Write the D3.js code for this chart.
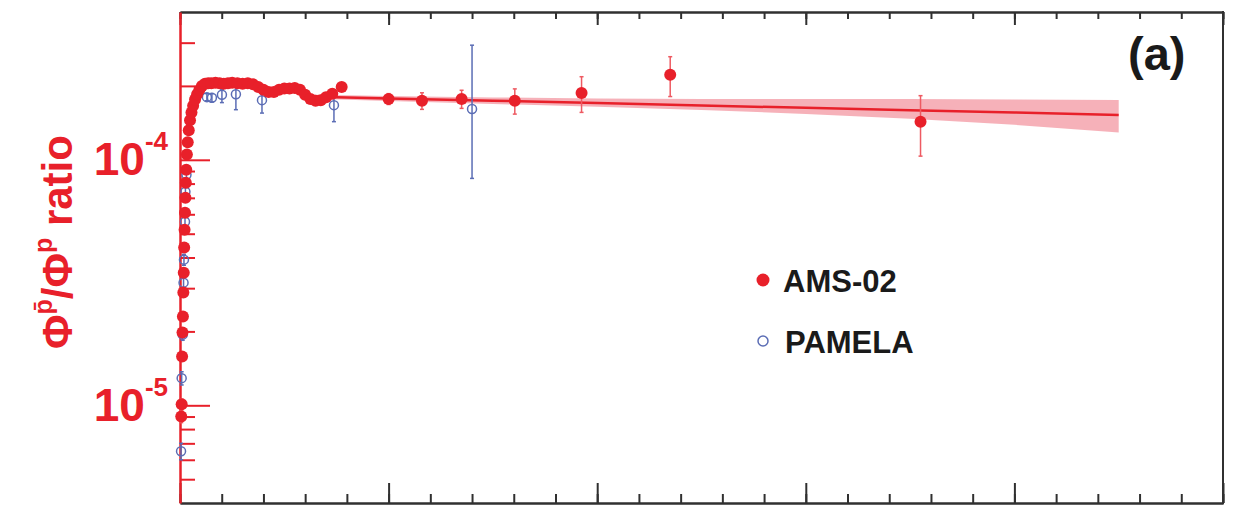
<!DOCTYPE html>
<html><head>
<meta charset="utf-8">
<title>pbar/p ratio</title>
<script src="https://d3js.org/d3.v7.min.js"></script>
<style>
  body { margin: 0; background: #fff; }
  svg text { font-family: "Liberation Sans", Arial, Helvetica, sans-serif; font-weight: bold; }
</style>
</head>
<body>
<svg id="chart" width="1233" height="505"></svg>

<script>
// ---- data (rigidity in GV, ratio in units of 1e-5) ----
const amsR = [0.6, 0.8, 1.0, 1.2, 1.4, 1.6, 1.8, 2.0, 2.2, 2.4, 2.6, 2.8, 3.0, 3.3, 3.7, 4.2, 4.8, 5.5, 6.3, 7.2,
              8.2, 9.3, 10.5, 12, 13.5, 15, 17, 19, 21, 23, 25, 27.5, 30, 32.5, 35, 37.5, 40, 42.5, 45, 47.5,
              50, 52.5, 55, 57.5, 60, 62.5, 65, 67.5, 70, 73, 77.5, 100, 116, 135, 160.5, 192.5, 235, 355];
const amsV = [0.90, 1.01, 1.58, 1.98, 2.30, 2.88, 3.47, 4.39, 5.19, 6.09, 7.01, 8.06, 9.11, 10.5, 11.8, 13.2, 14.5, 15.6, 16.6, 17.6,
              18.5, 19.3, 20.0, 20.4, 20.5, 20.5, 20.6, 20.5, 20.4, 20.5, 20.6, 20.5, 20.4, 20.5, 20.3, 19.8, 19.3, 18.9, 18.9, 19.3,
              19.5, 19.5, 19.6, 19.3, 18.4, 17.7, 17.4, 17.5, 18.0, 18.6, 19.8, 17.7, 17.4, 17.7, 17.4, 18.7, 22.2, 14.3];
const amsErr = [0.05, 0.05, 0.06, 0.07, 0.08, 0.09, 0.1, 0.12, 0.13, 0.15, 0.17, 0.18, 0.2, 0.2, 0.22, 0.24, 0.25, 0.26, 0.27, 0.28,
                0.29, 0.3, 0.3, 0.3, 0.3, 0.3, 0.3, 0.3, 0.32, 0.33, 0.34, 0.35, 0.36, 0.38, 0.4, 0.4, 0.42, 0.44, 0.45, 0.46,
                0.48, 0.5, 0.5, 0.52, 0.54, 0.55, 0.56, 0.58, 0.6, 0.62, 0.65, 0.9, 1.35, 1.5, 2.05, 3.1, 4.1, 3.95];

const pamR = [0.5, 0.8, 1.3, 1.7, 1.9, 2.4, 2.6, 3.1, 12.9, 15.3, 20.1, 26.8, 39.3, 73.8, 140];
const pamV = [0.65, 1.29, 1.94, 3.16, 3.92, 5.6, 7.41, 8.69, 18.0, 17.9, 18.4, 18.5, 17.5, 16.7, 16.1];
const pamErrLo = [0.05, 0.08, 0.1, 0.15, 0.2, 0.25, 0.3, 0.35, 0.6, 0.7, 1.3, 2.5, 2.0, 2.4, 7.7];
const pamErrHi = [0.05, 0.08, 0.1, 0.15, 0.2, 0.25, 0.3, 0.35, 0.6, 0.7, 1.0, 1.5, 1.0, 2.6, 13.2];

// fit with its uncertainty band
const fitR  = [60, 100, 150, 200, 250, 300, 350, 400, 450];
const fitV  = [18.1, 17.78, 17.41, 17.02, 16.65, 16.28, 15.93, 15.58, 15.24];
const fitLo = [17.77, 17.37, 16.89, 16.43, 15.97, 15.38, 14.68, 13.88, 12.91];
const fitHi = [18.45, 18.20, 17.95, 17.78, 17.70, 17.70, 17.70, 17.62, 17.54];

// ticks
const xMajor = [0, 100, 200, 300, 400, 500];
const xMinor = d3.range(0, 501, 20);
const yMajor = [1e-5, 1e-4];
const yMinor = [5e-6, 6e-6, 7e-6, 8e-6, 9e-6, 2e-5, 3e-5, 4e-5, 5e-5, 6e-5, 7e-5, 8e-5, 9e-5, 2e-4, 3e-4];
const unit = 1e-5;

// ---- setup ----
const svg = d3.select("svg#chart");
const red = "#e8202a";
const errRed = "#ee5a62";
const blue = "#5b6db5";
const dark = "#303030";

const xScale = d3.scaleLinear().domain([0, 500]).range([180, 1223]);
const yScale = d3.scaleLog().domain([4e-6, 4e-4]).range([503, 12]);

const ams = amsR.map((r, i) => ({ r: r, v: amsV[i] * unit, lo: (amsV[i] - amsErr[i]) * unit, hi: (amsV[i] + amsErr[i]) * unit }));
const pam = pamR.map((r, i) => ({ r: r, v: pamV[i] * unit, lo: (pamV[i] - pamErrLo[i]) * unit, hi: (pamV[i] + pamErrHi[i]) * unit }));
const fit = fitR.map((r, i) => ({ r: r, v: fitV[i] * unit, lo: fitLo[i] * unit, hi: fitHi[i] * unit }));

// ---- frame / axes ----
let frame = svg.append("g").attr("id", "frame");

function styleAxis(g, color) {
  g.attr("color", color);
  g.selectAll("path, line").attr("stroke-width", 2);
}

// bottom
frame.append("g").attr("transform", "translate(0,503)")
  .call(d3.axisBottom(xScale).tickValues(xMinor).tickSizeInner(-9).tickSizeOuter(0).tickFormat(""))
  .call(styleAxis, dark);
frame.append("g").attr("transform", "translate(0,503)")
  .call(d3.axisBottom(xScale).tickValues(xMajor).tickSizeInner(-20).tickSizeOuter(0).tickFormat(""))
  .call(styleAxis, dark);
// top
frame.append("g").attr("transform", "translate(0,12)")
  .call(d3.axisTop(xScale).tickValues(xMinor).tickSizeInner(-7).tickSizeOuter(0).tickFormat(""))
  .call(styleAxis, dark);
frame.append("g").attr("transform", "translate(0,12)")
  .call(d3.axisTop(xScale).tickValues(xMajor).tickSizeInner(-13).tickSizeOuter(0).tickFormat(""))
  .call(styleAxis, dark);
// right
frame.append("line")
  .attr("x1", xScale(500)).attr("x2", xScale(500))
  .attr("y1", yScale.range()[0] + 1).attr("y2", yScale.range()[1] - 1)
  .attr("stroke", dark).attr("stroke-width", 2);

// left (red, log)
frame.append("g").attr("transform", "translate(180,0)")
  .call(d3.axisLeft(yScale).tickValues(yMinor).tickSizeInner(-15).tickSizeOuter(0).tickFormat(""))
  .call(styleAxis, red)
  .select(".domain").attr("stroke-width", 2.5);

let yAxis = frame.append("g").attr("transform", "translate(180,0)")
  .call(d3.axisLeft(yScale).tickValues(yMajor).tickSizeInner(-30).tickSizeOuter(0).tickPadding(12))
  .call(styleAxis, red)
  .attr("font-size", 46);
yAxis.select(".domain").remove();
yAxis.selectAll(".tick text").each(function(d) {
  let t = d3.select(this).text(null).attr("fill", red).attr("font-size", 46);
  t.append("tspan").text("10");
  t.append("tspan").attr("font-size", 26).attr("dy", -25).text(Math.round(Math.log10(d)));
});

// y title
let title = svg.append("text")
  .attr("transform", "translate(72,242) rotate(-90)")
  .attr("text-anchor", "middle")
  .attr("font-size", 42)
  .attr("fill", red);
title.append("tspan").text("\u03A6");
title.append("tspan").attr("font-size", 25).attr("dy", -20).text("p\u0304");
title.append("tspan").attr("dy", 20).text("/\u03A6");
title.append("tspan").attr("font-size", 25).attr("dy", -20).text("p");
title.append("tspan").attr("dy", 20).text(" ratio");

// ---- fit band and line ----
let chartArea = svg.append("g").attr("id", "points");

chartArea.append("path")
  .datum(fit)
  .attr("fill", "#f4a3ad")
  .attr("opacity", 0.85)
  .attr("d", d3.area().x(d => xScale(d.r)).y0(d => yScale(d.lo)).y1(d => yScale(d.hi)));

chartArea.append("path")
  .datum(fit)
  .attr("fill", "none")
  .attr("stroke", red)
  .attr("stroke-width", 2.5)
  .attr("d", d3.line().x(d => xScale(d.r)).y(d => yScale(d.v)));

// ---- error bars ----
function errorBars(data, color, cls) {
  let g = chartArea.append("g").attr("class", cls)
    .attr("stroke", color).attr("stroke-width", 1.5);
  g.selectAll("line.bar").data(data).join("line").attr("class", "bar")
    .attr("x1", d => xScale(d.r)).attr("x2", d => xScale(d.r))
    .attr("y1", d => yScale(d.lo)).attr("y2", d => yScale(d.hi));
  g.selectAll("line.capLo").data(data).join("line").attr("class", "capLo")
    .attr("x1", d => xScale(d.r) - 2).attr("x2", d => xScale(d.r) + 2)
    .attr("y1", d => yScale(d.lo)).attr("y2", d => yScale(d.lo));
  g.selectAll("line.capHi").data(data).join("line").attr("class", "capHi")
    .attr("x1", d => xScale(d.r) - 2).attr("x2", d => xScale(d.r) + 2)
    .attr("y1", d => yScale(d.hi)).attr("y2", d => yScale(d.hi));
}

errorBars(pam, blue, "pamErr");
errorBars(ams, errRed, "amsErr");

// PAMELA: open circles
chartArea.append("g").selectAll("circle")
  .data(pam)
  .join("circle")
  .attr("cx", d => xScale(d.r))
  .attr("cy", d => yScale(d.v))
  .attr("r", 4.5)
  .attr("fill", "none")
  .attr("stroke", blue)
  .attr("stroke-width", 1.5);

// AMS-02: filled dots
chartArea.append("g").selectAll("circle")
  .data(ams)
  .join("circle")
  .attr("cx", d => xScale(d.r))
  .attr("cy", d => yScale(d.v))
  .attr("r", 6)
  .attr("fill", red);

// ---- legend and panel label ----
let legend = svg.append("g").attr("id", "legend");
legend.append("circle").attr("cx", 763).attr("cy", 280).attr("r", 6.5).attr("fill", red);
legend.append("text").attr("x", 783).attr("y", 292).attr("font-size", 31).attr("fill", "#1a1a1a").text("AMS-02");
legend.append("circle").attr("cx", 763).attr("cy", 341).attr("r", 5).attr("fill", "none")
  .attr("stroke", blue).attr("stroke-width", 1.5);
legend.append("text").attr("x", 785).attr("y", 353).attr("font-size", 31).attr("fill", "#1a1a1a").text("PAMELA");

svg.append("text").attr("x", 1128).attr("y", 70).attr("font-size", 47).attr("fill", "#1a1a1a").text("(a)");
</script>
</body>
</html>
